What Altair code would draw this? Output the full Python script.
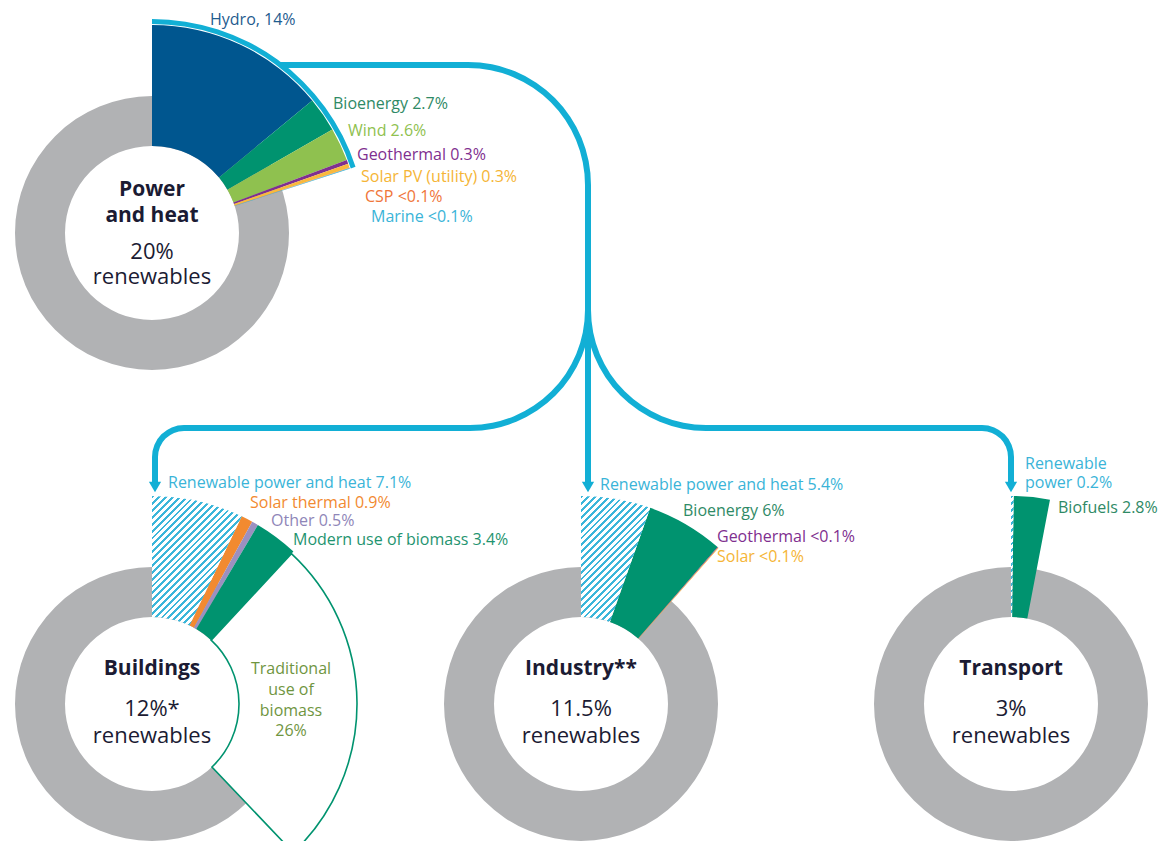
import math
import altair as alt
import pandas as pd

# ------------------------------------------------------------------ data
sector_names = ["Power and heat", "Buildings", "Industry**", "Transport"]
sector_renewables = ["20%", "12%*", "11.5%", "3%"]

power_names = ["Hydro", "Bioenergy", "Wind", "Geothermal", "Solar PV (utility)", "CSP", "Marine"]
power_values = [14, 2.7, 2.6, 0.3, 0.3, 0.05, 0.05]
power_labels = ["Hydro, 14%", "Bioenergy 2.7%", "Wind 2.6%", "Geothermal 0.3%",
                "Solar PV (utility) 0.3%", "CSP <0.1%", "Marine <0.1%"]

buildings_names = ["Renewable power and heat", "Solar thermal", "Other",
                   "Modern use of biomass", "Traditional use of biomass"]
buildings_values = [7.1, 0.9, 0.5, 3.4, 26]
buildings_labels = ["Renewable power and heat 7.1%", "Solar thermal 0.9%", "Other 0.5%",
                    "Modern use of biomass 3.4%", "Traditional use of biomass 26%"]

industry_names = ["Renewable power and heat", "Bioenergy", "Geothermal", "Solar"]
industry_values = [5.4, 6, 0.05, 0.05]
industry_labels = ["Renewable power and heat 5.4%", "Bioenergy 6%", "Geothermal <0.1%", "Solar <0.1%"]

transport_names = ["Renewable power", "Biofuels"]
transport_values = [0.2, 2.8]
transport_labels = ["Renewable power 0.2%", "Biofuels 2.8%"]

# ------------------------------------------------------------------ style / layout
W, H = 1159, 833
FONT = "Open Sans"
BLUE = "#12afd5"
CYAN = "#3bb6da"
GREY = "#b1b2b4"
DARK = "#1b1b33"
COL = {
    "Hydro": "#00568f", "Bioenergy": "#00936f", "Wind": "#8fc14f", "Geothermal": "#7f2f8f",
    "Solar PV (utility)": "#f9b93c", "CSP": "#f28a30", "Marine": "#3ab4d8",
    "Solar thermal": "#f28a30", "Other": "#9b90c0", "Modern use of biomass": "#00936f",
    "Biofuels": "#00936f", "Solar": "#f9b93c",
}
LABCOL = {
    "Hydro": "#1f5c8f", "Bioenergy": "#2f8a66", "Wind": "#8fc14f", "Geothermal": "#7f2f8f",
    "Solar PV (utility)": "#f5b536", "CSP": "#f0763a", "Marine": "#3ab4d8",
    "Renewable power and heat": "#3ab4d8", "Renewable power": "#3ab4d8",
    "Solar thermal": "#f28a30", "Other": "#8f86b8", "Modern use of biomass": "#1f9470",
    "Traditional use of biomass": "#6f953f", "Biofuels": "#2f8a66", "Solar": "#f5b536",
}
CENTERS = {"Power and heat": (152, 233), "Buildings": (152, 704),
           "Industry**": (581, 704), "Transport": (1011, 704)}
R_IN, R_RING, R_OUT = 87, 137, 208

xs = alt.Scale(domain=[8, 8 + W], range=[0, W])
ys = alt.Scale(domain=[8, 8 + H], range=[0, H])
ts = alt.Scale(domain=[0, 100], range=[0, 2 * math.pi])

# ------------------------------------------------------------------ tables
groups = [("Power and heat", power_names, power_values, power_labels),
          ("Buildings", buildings_names, buildings_values, buildings_labels),
          ("Industry**", industry_names, industry_values, industry_labels),
          ("Transport", transport_names, transport_values, transport_labels)]
rows = []
for sector, names, vals, labs in groups:
    cx, cy = CENTERS[sector]
    c = 0.0
    for n, v, lab in zip(names, vals, labs):
        rows.append(dict(sector=sector, name=n, label=lab, t0=c, t1=c + v, cx=cx, cy=cy,
                         fill=COL.get(n, "#ffffff")))
        c += v
wedges = pd.DataFrame(rows)

rings = pd.DataFrame([dict(sector=s, cx=CENTERS[s][0], cy=CENTERS[s][1], t0=0, t1=100)
                      for s in sector_names])


def arc_enc(df):
    return dict(
        x=alt.X("cx:Q", scale=xs, axis=None),
        y=alt.Y("cy:Q", scale=ys, axis=None),
        theta=alt.Theta("t0:Q", scale=ts, stack=None),
        theta2=alt.Theta2("t1:Q"),
    )


def hatch(t0, t1, r0, r1, period=4.8):
    a0, a1 = t0 * 2 * math.pi / 100, t1 * 2 * math.pi / 100
    angs = [a0, a1]
    pts = [(r * math.sin(a), -r * math.cos(a)) for a in angs for r in (r0, r1)]
    for k in range(5):
        a = k * math.pi / 2
        if a0 < a < a1:
            pts.append((r1 * math.sin(a), -r1 * math.cos(a)))
    w = max(p[0] for p in pts) - min(p[0] for p in pts)
    h = max(p[1] for p in pts) - min(p[1] for p in pts)
    m = max(w, h)
    n = max(2, int(round((w * w + h * h) / (m * period * math.sqrt(2)))))
    stops = []
    for i in range(n):
        stops += [alt.GradientStop(offset=i / n, color=CYAN),
                  alt.GradientStop(offset=(i + 0.42) / n, color=CYAN),
                  alt.GradientStop(offset=(i + 0.42) / n, color="#ffffff"),
                  alt.GradientStop(offset=(i + 1) / n, color="#ffffff")]
    return alt.LinearGradient(gradient="linear", stops=stops, x1=0, y1=0, x2=w / m, y2=h / m)


layers = []
# grey rings
layers.append(alt.Chart(rings).mark_arc(radius=R_RING, radius2=R_IN, fill=GREY, stroke=None)
              .encode(**arc_enc(rings)))

# traditional biomass (outlined)
trad = wedges[wedges["name"] == "Traditional use of biomass"]
layers.append(alt.Chart(trad).mark_arc(radius=R_OUT - 3, radius2=R_IN, fill="#ffffff",
                                       stroke="#00936f", strokeWidth=1.6)
              .encode(**arc_enc(trad)))

# solid wedges
solid = wedges[wedges["name"].isin(list(COL.keys()))]
layers.append(alt.Chart(solid).mark_arc(radius=R_OUT, radius2=R_IN, stroke=None)
              .encode(**arc_enc(solid), fill=alt.Fill("fill:N", scale=None)))

# hatched wedges (renewable power and heat delivered)
hat = wedges[wedges["name"].str.startswith("Renewable power")]
for _, r in hat.iterrows():
    d = hat[(hat["sector"] == r["sector"])]
    layers.append(alt.Chart(d).mark_arc(radius=R_OUT, radius2=R_IN, stroke=None,
                                        fill=hatch(r["t0"], r["t1"], R_IN, R_OUT))
                  .encode(**arc_enc(d)))

# connectors: curved parts (cx, cy, radius, start %, end % of a turn)
conn_arcs = pd.DataFrame([
    dict(cx=152, cy=233, ro=214, ri=209, t0=0, t1=20),
    dict(cx=468, cy=185, ro=123, ri=117, t0=0, t1=25),
    dict(cx=470, cy=310, ro=121, ri=115, t0=25, t1=50),
    dict(cx=706, cy=310, ro=121, ri=115, t0=50, t1=75),
    dict(cx=184, cy=457, ro=32, ri=26, t0=75, t1=100),
    dict(cx=982, cy=457, ro=32, ri=26, t0=0, t1=25),
])
layers.append(alt.Chart(conn_arcs).mark_arc(fill=BLUE, stroke=None).encode(
    **arc_enc(conn_arcs),
    radius=alt.Radius("ro:Q", scale=None, stack=None),
    radius2=alt.Radius2("ri:Q")))

conn_lines = pd.DataFrame([
    dict(x=280, x2=468, y=65, y2=65),
    dict(x=588, x2=588, y=185, y2=482),
    dict(x=184, x2=470, y=428, y2=428),
    dict(x=706, x2=982, y=428, y2=428),
    dict(x=155, x2=155, y=457, y2=482),
    dict(x=1011, x2=1011, y=457, y2=482),
])
layers.append(alt.Chart(conn_lines).mark_rule(color=BLUE, strokeWidth=6).encode(
    x=alt.X("x:Q", scale=xs, axis=None), x2="x2:Q",
    y=alt.Y("y:Q", scale=ys, axis=None), y2="y2:Q"))

arrows = pd.DataFrame([dict(x=155, y=487), dict(x=588, y=487), dict(x=1011, y=487)])
layers.append(alt.Chart(arrows).mark_point(shape="triangle-down", filled=True, size=150,
                                           color=BLUE, opacity=1).encode(
    x=alt.X("x:Q", scale=xs, axis=None), y=alt.Y("y:Q", scale=ys, axis=None)))

# ------------------------------------------------------------------ labels
lab_pos = {
    ("Power and heat", "Hydro"): (210, 20),
    ("Power and heat", "Bioenergy"): (333, 104),
    ("Power and heat", "Wind"): (348, 131),
    ("Power and heat", "Geothermal"): (357, 155),
    ("Power and heat", "Solar PV (utility)"): (361, 177),
    ("Power and heat", "CSP"): (365, 197),
    ("Power and heat", "Marine"): (371, 217),
    ("Buildings", "Renewable power and heat"): (168, 483),
    ("Buildings", "Solar thermal"): (250, 503),
    ("Buildings", "Other"): (271, 521),
    ("Buildings", "Modern use of biomass"): (293, 540),
    ("Industry**", "Renewable power and heat"): (600, 485),
    ("Industry**", "Bioenergy"): (683, 511),
    ("Industry**", "Geothermal"): (717, 537),
    ("Industry**", "Solar"): (717, 557),
    ("Transport", "Biofuels"): (1058, 508),
}
lrows = []
for _, r in wedges.iterrows():
    key = (r["sector"], r["name"])
    if key in lab_pos:
        x, y = lab_pos[key]
        lrows.append(dict(x=x, y=y, text=r["label"], c=LABCOL[r["name"]]))
# transport renewable power label on two lines
tr = wedges[(wedges["sector"] == "Transport") & (wedges["name"] == "Renewable power")].iloc[0]
tw = tr["label"].split(" ", 1)
lrows.append(dict(x=1025, y=464, text=tw[0], c=LABCOL["Renewable power"]))
lrows.append(dict(x=1025, y=483, text=tw[1], c=LABCOL["Renewable power"]))
labels = pd.DataFrame(lrows)
layers.append(alt.Chart(labels).mark_text(align="left", baseline="middle", font=FONT,
                                          fontSize=16).encode(
    x=alt.X("x:Q", scale=xs, axis=None), y=alt.Y("y:Q", scale=ys, axis=None),
    text="text:N", color=alt.Color("c:N", scale=None)))

# traditional biomass label (centered, 4 lines)
tb = trad.iloc[0]["label"]
tb_lines = ["Traditional", "use of", "biomass", tb.split(" ")[-1]]
tlab = pd.DataFrame([dict(x=291, y=y, text=t) for t, y in zip(tb_lines, [669, 690, 711, 731])])
layers.append(alt.Chart(tlab).mark_text(align="center", baseline="middle", font=FONT,
                                        fontSize=16, color=LABCOL["Traditional use of biomass"]).encode(
    x=alt.X("x:Q", scale=xs, axis=None), y=alt.Y("y:Q", scale=ys, axis=None), text="text:N"))

# centre titles
trows = []
for s in sector_names:
    cx, cy = CENTERS[s]
    if s == "Power and heat":
        trows += [dict(x=cx, y=190, text="Power"), dict(x=cx, y=216, text="and heat")]
    else:
        trows.append(dict(x=cx, y=cy - 35, text=s))
titles = pd.DataFrame(trows)
layers.append(alt.Chart(titles).mark_text(align="center", baseline="middle", font=FONT,
                                          fontSize=21, fontWeight="bold", color=DARK).encode(
    x=alt.X("x:Q", scale=xs, axis=None), y=alt.Y("y:Q", scale=ys, axis=None), text="text:N"))

srows = []
for s, pct in zip(sector_names, sector_renewables):
    cx, cy = CENTERS[s]
    if s == "Power and heat":
        srows += [dict(x=cx, y=252, text=pct), dict(x=cx, y=277, text="renewables")]
    else:
        srows += [dict(x=cx, y=cy + 5, text=pct), dict(x=cx, y=cy + 32, text="renewables")]
subs = pd.DataFrame(srows)
layers.append(alt.Chart(subs).mark_text(align="center", baseline="middle", font=FONT,
                                        fontSize=22, color=DARK).encode(
    x=alt.X("x:Q", scale=xs, axis=None), y=alt.Y("y:Q", scale=ys, axis=None), text="text:N"))

chart = alt.layer(*layers).properties(
    width=W, height=H, padding=0, background="white",
    autosize=alt.AutoSizeParams(type="none"),
).configure_view(stroke=None)

chart.save("out.html", embed_options={"renderer": "svg", "actions": False})
